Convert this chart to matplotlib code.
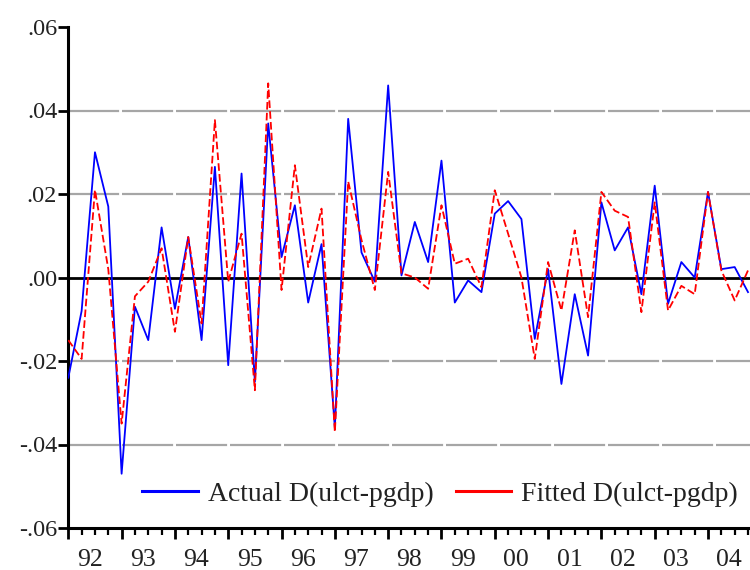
import matplotlib
matplotlib.use('Agg')
import matplotlib.pyplot as plt
from matplotlib.ticker import FixedLocator, NullFormatter

# Quarterly observations 1992Q1 .. 2004Q4
actual = [-0.024, -0.008, 0.030, 0.017, -0.047, -0.007, -0.015, 0.012, -0.0075, 0.0097,
          -0.015, 0.0265, -0.021, 0.0249, -0.025, 0.0369, 0.0049, 0.0173, -0.006, 0.008,
          -0.036, 0.038, 0.006, -0.001, 0.046, 0.0005, 0.0133, 0.0037, 0.028, -0.006,
          -0.0007, -0.0035, 0.0153, 0.0183, 0.014, -0.0147, 0.002, -0.0255, -0.004, -0.0187,
          0.018, 0.0065, 0.012, -0.004, 0.022, -0.0063, 0.0037, 0.0, 0.0205, 0.002,
          0.0025, -0.0035]
fitted = [-0.015, -0.0195, 0.021, 0.002, -0.035, -0.0045, -0.001, 0.007, -0.013, 0.0097,
          -0.011, 0.0377, -0.001, 0.0105, -0.027, 0.0465, -0.003, 0.0269, 0.0025, 0.0165,
          -0.037, 0.023, 0.009, -0.003, 0.0253, 0.001, 0.0, -0.0027, 0.0173, 0.0033,
          0.0045, -0.0023, 0.0209, 0.0105, 0.0, -0.0195, 0.0037, -0.0079, 0.0113, -0.0095,
          0.0205, 0.016, 0.0145, -0.0083, 0.018, -0.0079, -0.002, -0.004, 0.0205, 0.0017,
          -0.0055, 0.0017]
year_labels = ['92', '93', '94', '95', '96', '97', '98', '99', '00', '01', '02', '03', '04']
yticks = [0.06, 0.04, 0.02, 0.00, -0.02, -0.04, -0.06]
ytick_labels = ['.06', '.04', '.02', '.00', '-.02', '-.04', '-.06']
grid_values = [0.04, 0.02, -0.02, -0.04]
series_names = ['Actual D(ulct-pgdp)', 'Fitted D(ulct-pgdp)']

plt.rcParams['font.family'] = ['Liberation Serif', 'DejaVu Serif']

fig = plt.figure(figsize=(7.5, 5.7), dpi=100)
ax = fig.add_axes([68.3 / 750, 1 - 528 / 570, 1 - 68.3 / 750, (528 - 27) / 570])

xs = list(range(len(actual)))

for g in grid_values:
    ax.axhline(g, color='#a6a6a6', lw=1.6, ls=(0, (23, 1.3)), zorder=1)
ax.axhline(0.0, color='black', lw=2.0, zorder=2)

l1, = ax.plot(xs, actual, color='#0000ff', lw=1.3, zorder=3, label=series_names[0])
l2, = ax.plot(xs, fitted, color='#ff0000', lw=1.3, ls=(0, (4.2, 1.8)), zorder=4,
              label=series_names[1])

ax.set_xlim(0, 51.15)
ax.set_ylim(-0.06, 0.06)

for s in ['top', 'right']:
    ax.spines[s].set_visible(False)
for s in ['left', 'bottom']:
    ax.spines[s].set_linewidth(2.2)
    ax.spines[s].set_color('black')

ax.set_yticks(yticks)
ax.set_yticklabels(ytick_labels, fontsize=17.5, color='#222222')
ax.tick_params(axis='y', direction='out', length=7, width=2.0, pad=1)

n = len(actual)
ax.xaxis.set_major_locator(FixedLocator(list(range(0, n + 1, 4))))
ax.xaxis.set_minor_locator(FixedLocator(list(range(0, n + 1))))
ax.xaxis.set_major_formatter(NullFormatter())
ax.tick_params(axis='x', which='major', direction='out', length=8, width=2.0)
ax.tick_params(axis='x', which='minor', direction='out', length=5, width=1.6)

xt = ax.get_xaxis_transform()
for k, lab in enumerate(year_labels):
    ax.text(4 * k + 1.6, -0.042, lab, transform=xt, ha='center', va='top',
            fontsize=18.5, color='#222222', clip_on=False)

leg = fig.legend(handles=[l1, l2], labels=series_names, loc='center left',
                 bbox_to_anchor=(142 / 750, 1 - 494 / 570), ncol=2, frameon=False,
                 fontsize=20, handlelength=2.0, handletextpad=0.36, columnspacing=0.8,
                 borderaxespad=0, borderpad=0)
for h in leg.legend_handles:
    h.set_linestyle('-')
    h.set_linewidth(2.2)
for t in leg.get_texts():
    t.set_color('#222222')

fig.savefig('out.png', dpi=100)
